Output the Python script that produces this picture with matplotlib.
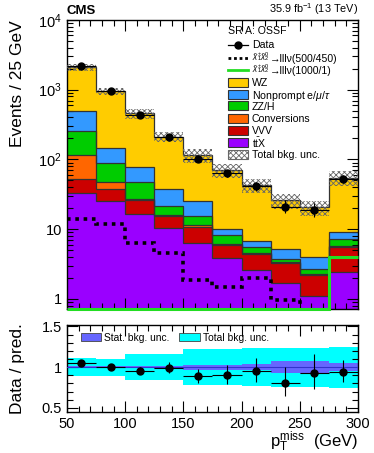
import numpy as np
import matplotlib
matplotlib.use("Agg")
import matplotlib.pyplot as plt
from matplotlib.patches import Patch, Rectangle
from matplotlib.lines import Line2D
from matplotlib.ticker import NullFormatter, LogLocator, MultipleLocator

plt.rcParams['font.family'] = ['Liberation Sans', 'DejaVu Sans']
plt.rcParams['mathtext.fontset'] = 'custom'
plt.rcParams['mathtext.rm'] = 'Liberation Sans'
plt.rcParams['mathtext.it'] = 'Liberation Sans:italic'
plt.rcParams['hatch.linewidth'] = 0.6

# ---------------- data ----------------
bin_edges = [50, 75, 100, 125, 150, 175, 200, 225, 250, 275, 300]
ttX = [33.6, 25, 16.7, 10.5, 6.4, 3.9, 2.6, 1.7, 1.1, 2.45]
VVV = [19.4, 13, 9.3, 5.1, 4.5, 2.1, 1.8, 1.6, 1.1, 3.15]
Conv = [61, 9, 1.5, 0.6, 0.7, 0.2, 0.2, 0.05, 0.05, 0.2]
ZZH = [146, 43, 19.5, 5.6, 4.0, 2.1, 1.0, 0.45, 0.4, 1.5]
Nonprompt = [230, 54, 32, 16.2, 9.4, 1.7, 1.2, 1.4, 1.4, 1.9]
WZ = [1610, 806, 381, 172, 90, 60, 36.2, 20.8, 16.5, 45.8]
data = [2219, 950, 441, 208, 102, 63, 41, 21, 19, 52]
sig_500_450 = [14, 12, 6.4, 4.6, 1.9, 1.5, 2.0, 0.97, 0.3, 0.3]
sig_1000_1 = [0.1, 0.1, 0.1, 0.1, 0.1, 0.1, 0.1, 0.1, 0.1, 4.0]
tot_unc_rel = [0.11, 0.105, 0.16, 0.16, 0.22, 0.22, 0.235, 0.24, 0.24, 0.25]
stat_unc_rel = [0.01, 0.01, 0.015, 0.02, 0.03, 0.03, 0.04, 0.07, 0.08, 0.05]

colors = ['#9a00ff', '#cc0000', '#ff6600', '#00cc00', '#3399ff', '#ffcc00']
comps = [ttX, VVV, Conv, ZZH, Nonprompt, WZ]

edges = np.array(bin_edges, dtype=float)
centers = 0.5 * (edges[:-1] + edges[1:])
halfw = 0.5 * np.diff(edges)
arr = [np.array(c, float) for c in comps]
cum = np.cumsum(arr, axis=0)
total = cum[-1]
d = np.array(data, float)
err_up = np.sqrt(d + 0.25) + 0.5
err_dn = np.sqrt(d + 0.25) - 0.5

YLO, YHI = 0.72, 1e4
W, H = 374.0, 453.0

fig = plt.figure(figsize=(3.74, 4.53), dpi=100)
ax = fig.add_axes([0.179, 0.318, 0.778, 0.638])
rax = fig.add_axes([0.179, 0.0905, 0.778, 0.1925])

# stack
for i in range(len(arr) - 1, -1, -1):
    ax.stairs(cum[i], edges, baseline=YLO * 0.5, fill=True, color=colors[i], zorder=1 + (len(arr) - i) * 0.01)
    ax.stairs(cum[i], edges, baseline=None, color='#333333', lw=0.9, zorder=2)

# uncertainty hatch
lo_band = total * (1 - np.array(tot_unc_rel))
hi_band = total * (1 + np.array(tot_unc_rel))
ax.fill_between(edges, np.append(lo_band, lo_band[-1]), np.append(hi_band, hi_band[-1]),
                step='post', facecolor='none', edgecolor='#666666', hatch='xxxxxx', lw=0, zorder=3)

# signals
ax.stairs(np.maximum(sig_500_450, YLO * 0.5), edges, baseline=None, color='black', lw=2.6,
          linestyle=(0, (1, 1.3)), zorder=4)
ax.stairs(np.maximum(sig_1000_1, YLO), edges, baseline=None, color='#22dd22', lw=2.2, zorder=4, clip_on=False)

# data
ax.errorbar(centers, d, yerr=[err_dn, err_up], xerr=halfw, fmt='o', color='black', ms=5, lw=0.8,
            capsize=0, zorder=5)

ax.set_yscale('log')
ax.set_ylim(YLO, YHI)
ax.set_xlim(50, 300)
ax.set_yticks([1, 10, 100, 1000, 10000])
ax.set_yticklabels(['1', '10', '$10^2$', '$10^3$', '$10^4$'])
ax.yaxis.set_minor_locator(LogLocator(base=10, subs=np.arange(2, 10)))
ax.yaxis.set_minor_formatter(NullFormatter())
ax.xaxis.set_major_locator(MultipleLocator(50))
ax.xaxis.set_minor_locator(MultipleLocator(10))
ax.set_xticklabels([])
ax.set_ylabel('Events / 25 GeV', fontsize=12.5, loc='top')
ax.yaxis.set_label_coords(-0.145, 1.0)

for a in (ax, rax):
    a.tick_params(which='both', direction='in', top=True, right=True, labelsize=10.5)
    a.tick_params(which='major', length=8, width=0.8)
    a.tick_params(which='minor', length=4, width=0.8)
    for s in a.spines.values():
        s.set_linewidth(1.0)

fig.text(0.179, 0.962, 'CMS', fontsize=9.5, fontweight='bold', ha='left', va='bottom')
fig.text(0.957, 0.962, '35.9 fb$^{-1}$ (13 TeV)', fontsize=7.8, ha='right', va='bottom')

# ---- manual legend (figure pixel layout) ----
def fx(px):
    return px / W

def fy(py):
    return 1 - py / H

chi_part = '$\\tilde{\\chi}^{\\pm}_{1}\\tilde{\\chi}^{0}_{2}$'
leg_labels = [
    'Data',
    '\u2192lll\u03bd(500/450)',
    '\u2192lll\u03bd(1000/1)',
    'WZ', 'Nonprompt e/$\\mu$/$\\tau$', 'ZZ/H', 'Conversions', 'VVV', 't$\\bar{\\rm t}$X', 'Total bkg. unc.',
]
kinds = ['data', 'dot', 'green', 5, 4, 3, 2, 1, 0, 'hatch']
row_y = [44.5, 57.5, 69.5, 82, 94, 105.5, 118, 130, 142, 154]
fs_leg = 7.6
x0, x1, xt = 228, 248, 252
renderer = fig.canvas.get_renderer()
fig.text(fx(x0), fy(30), 'SR A: OSSF', fontsize=fs_leg, ha='left', va='center_baseline')
for lab, kind, py in zip(leg_labels, kinds, row_y):
    xtext = xt
    if kind == 'data':
        fig.add_artist(Line2D([fx(x0), fx(x1)], [fy(py), fy(py)], color='black', lw=0.9))
        fig.add_artist(Line2D([fx((x0 + x1) / 2)], [fy(py)], marker='o', ms=5, color='black'))
    elif kind in ('dot', 'green'):
        if kind == 'dot':
            fig.add_artist(Line2D([fx(x0), fx(x1)], [fy(py), fy(py)], color='black', lw=2.0,
                                  linestyle=(0, (1, 1.0))))
        else:
            fig.add_artist(Line2D([fx(x0), fx(x1)], [fy(py), fy(py)], color='#22dd22', lw=2.0))
        t = fig.text(fx(xt), fy(py + 1.5), chi_part, fontsize=5.8, ha='left', va='baseline')
        bb = t.get_window_extent(renderer=renderer)
        xtext = xt + bb.width
    elif kind == 'hatch':
        fig.add_artist(Rectangle((fx(x0), fy(py + 4.5)), fx(x1) - fx(x0), fy(py - 4.5) - fy(py + 4.5),
                                 facecolor='white', edgecolor='#666666', hatch='xxxxxx', lw=0.8))
    else:
        fig.add_artist(Rectangle((fx(x0), fy(py + 4.5)), fx(x1) - fx(x0), fy(py - 4.5) - fy(py + 4.5),
                                 facecolor=colors[kind], edgecolor='#333333', lw=0.8))
    fig.text(fx(xtext), fy(py), lab, fontsize=fs_leg, ha='left', va='center_baseline')

# ratio panel
tu = np.array(tot_unc_rel)
su = np.array(stat_unc_rel)
rax.stairs(1 + tu, edges, baseline=1 - tu, fill=True, color='#00ffff', zorder=1)
rax.stairs(1 + su, edges, baseline=1 - su, fill=True, color='#6666ff', zorder=2)
rax.axhline(1, color='#3333cc', lw=0.8, zorder=3)
ratio = d / total
rax.errorbar(centers, ratio, yerr=[err_dn / total, err_up / total], xerr=halfw, fmt='o', color='black',
             ms=5, lw=0.8, capsize=0, zorder=5)
rax.set_xlim(50, 300)
rax.set_ylim(0.45, 1.52)
rax.set_yticks([0.5, 1, 1.5])
rax.set_yticklabels(['0.5', '1', '1.5'])
rax.yaxis.set_minor_locator(MultipleLocator(0.1))
rax.xaxis.set_major_locator(MultipleLocator(50))
rax.xaxis.set_minor_locator(MultipleLocator(10))
rax.set_ylabel('Data / pred.', fontsize=12.5)
rax.yaxis.set_label_coords(-0.145, 0.5)
rax.set_xlabel('p$_{\\rm T}^{\\rm miss}$  (GeV)', fontsize=12, ha='right', va='top')
rax.xaxis.set_label_coords(1.0, -0.20)
rhandles = [Patch(facecolor='#6666ff', edgecolor='#444444', lw=0.6),
            Patch(facecolor='#00ffff', edgecolor='#444444', lw=0.6)]
rax.legend(rhandles, ['Stat. bkg. unc.', 'Total bkg. unc.'], loc='upper left', ncol=2, fontsize=7.4,
           frameon=False, bbox_to_anchor=(0.03, 0.97), handlelength=2.0, handletextpad=0.3,
           columnspacing=0.9, borderaxespad=0.1)

fig.savefig('out.png', dpi=100)
